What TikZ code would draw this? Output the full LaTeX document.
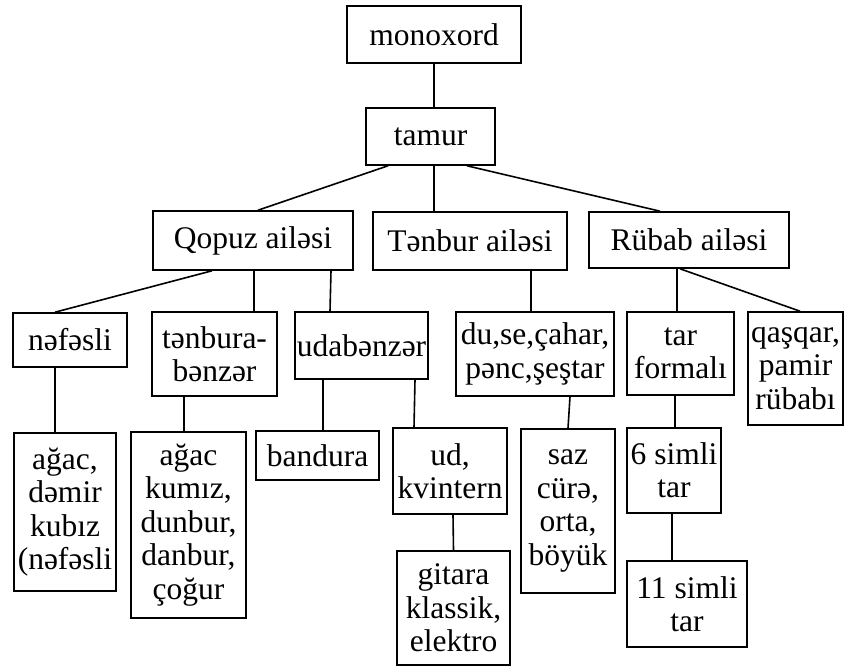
\documentclass[tikz,border=0pt]{standalone}
\usepackage{fontspec}
\setmainfont{Liberation Serif}
\begin{document}
\begin{tikzpicture}[x=1pt,y=-1pt,
  box/.style={draw, line width=1.6pt, inner sep=0.5pt, align=center,
    font=\fontsize{31.5}{33.4}\selectfont},
  link/.style={line width=1.6pt}]
\useasboundingbox (0,0) rectangle (846,668);
% level 0-1
\node[box, minimum width=174, minimum height=57] (mono) at (434,34.5) {monoxord};
\node[box, minimum width=129, minimum height=57] (tamur) at (430.5,136.5) {tamur};
% families
\node[box, minimum width=200, minimum height=59] (qopuz) at (253,240.5) {Qopuz ailəsi};
\node[box, minimum width=194, minimum height=58] (tenbur) at (470,241) {Tənbur ailəsi};
\node[box, minimum width=200, minimum height=56] (rubab) at (689,240) {Rübab ailəsi};
% level 3
\node[box, minimum width=114, minimum height=54] (nefesli) at (70,340) {nəfəsli};
\node[box, minimum width=125, minimum height=84] (tenbura) at (214.5,354) {tənbura-\\bənzər};
\node[box, minimum width=133, minimum height=67] (udaben) at (361.5,345.5) {udabənzər};
\node[box, minimum width=158, minimum height=84] (duse) at (535,354) {du,se,çahar,\\pənc,şeştar};
\node[box, minimum width=107, minimum height=83] (tarform) at (680.5,353.5) {tar\\formalı};
\node[box, minimum width=95, minimum height=113] (qasqar) at (795.5,368.5) {qaşqar,\\pamir\\rübabı};
% level 4
\node[box, minimum width=102, minimum height=158] (agac) at (65,512) {ağac,\\dəmir\\kubız\\(nəfəsli};
\node[box, minimum width=115, minimum height=186] (kumiz) at (188.5,525) {ağac\\kumız,\\dunbur,\\danbur,\\çoğur};
\node[box, minimum width=123, minimum height=49] (bandura) at (317.5,455.5) {bandura};
\node[box, minimum width=114, minimum height=86] (ud) at (450,471) {ud,\\kvintern};
\node[box, minimum width=94, minimum height=164] (saz) at (568,511) {saz\\cürə,\\orta,\\böyük};
\node[box, minimum width=94, minimum height=85] (simli6) at (674,470.5) {6 simli\\tar};
% level 5
\node[box, minimum width=113, minimum height=114] (gitara) at (453.5,608) {gitara\\klassik,\\elektro};
\node[box, minimum width=120, minimum height=86] (simli11) at (687,604) {11 simli\\tar};
% connectors
\draw[link] (mono.south) -- ([xshift=3.5]tamur.north);
\draw[link] ([xshift=-42.5]tamur.south) -- ([xshift=5]qopuz.north);
\draw[link] ([xshift=3.5]tamur.south) -- ([xshift=-36]tenbur.north);
\draw[link] ([xshift=36.5]tamur.south) -- ([xshift=-29]rubab.north);
\draw[link] ([xshift=-41]qopuz.south) -- ([xshift=-15]nefesli.north);
\draw[link] ([xshift=1]qopuz.south) -- ([xshift=39.5]tenbura.north);
\draw[link] ([xshift=78]qopuz.south) -- ([xshift=-31.5]udaben.north);
\draw[link] ([xshift=61]tenbur.south) -- ([xshift=-4]duse.north);
\draw[link] ([xshift=-12]rubab.south) -- ([xshift=-3.5]tarform.north);
\draw[link] ([xshift=-9]rubab.south) -- ([xshift=4.5]qasqar.north);
\draw[link] ([xshift=-15]nefesli.south) -- ([xshift=-10]agac.north);
\draw[link] ([xshift=-30.5]tenbura.south) -- ([xshift=-4.5]kumiz.north);
\draw[link] ([xshift=-38.5]udaben.south) -- ([xshift=5.5]bandura.north);
\draw[link] ([xshift=53.5]udaben.south) -- ([xshift=-36]ud.north);
\draw[link] ([xshift=35]duse.south) -- (saz.north);
\draw[link] ([xshift=-5.5]tarform.south) -- ([xshift=1]simli6.north);
\draw[link] ([xshift=3]ud.south) -- (gitara.north);
\draw[link] ([xshift=-2]simli6.south) -- ([xshift=-15]simli11.north);
\end{tikzpicture}
\end{document}
